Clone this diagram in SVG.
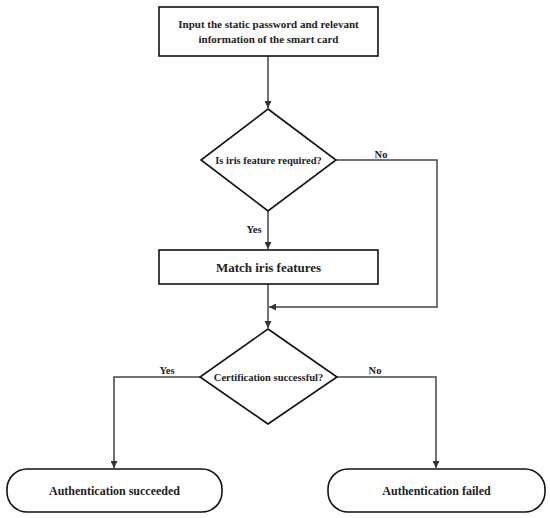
<svg xmlns="http://www.w3.org/2000/svg" width="550" height="518" viewBox="0 0 550 518">
<style>
.s{fill:#fff;stroke:#111;stroke-width:1.6}
.c{fill:none;stroke:#444;stroke-width:1.5}
.t{font-family:"Liberation Serif","Times New Roman",serif;font-weight:bold;fill:#222;text-anchor:middle}
</style>
<defs>
<marker id="a" viewBox="0 0 10 10" refX="10" refY="5" markerWidth="7" markerHeight="7" markerUnits="userSpaceOnUse" orient="auto"><path d="M0,0L10,5L0,10z" fill="#333"/></marker>
</defs>
<rect width="550" height="518" fill="#fff"/>
<g id="connectors">
<line class="c" x1="268" y1="56" x2="268" y2="108" marker-end="url(#a)"/>
<line class="c" x1="268" y1="211" x2="268" y2="249" marker-end="url(#a)"/>
<polyline class="c" points="336,160 437,160 437,307 269,307" marker-end="url(#a)"/>
<line class="c" x1="268" y1="284" x2="268" y2="328" marker-end="url(#a)"/>
<polyline class="c" points="200,377 114,377 114,468" marker-end="url(#a)"/>
<polyline class="c" points="337,377 436,377 436,468" marker-end="url(#a)"/>
</g>
<g id="input">
<rect class="s" x="159" y="7" width="219" height="49"/>
<text class="t" x="268.5" y="28" font-size="11">Input the static password and relevant</text>
<text class="t" x="268.5" y="43" font-size="11">information of the smart card</text>
</g>
<g id="iris_required">
<polygon class="s" points="268,109 336,160 268,211 201,160"/>
<text class="t" x="268.5" y="164" font-size="10.5">Is iris feature required?</text>
</g>
<text class="t" x="381" y="158" font-size="10.5">No</text>
<text class="t" x="254" y="233" font-size="10.5">Yes</text>
<g id="match">
<rect class="s" x="159" y="250" width="219" height="34"/>
<text class="t" x="268.5" y="272" font-size="13">Match iris features</text>
</g>
<g id="cert">
<polygon class="s" points="268,329 337,377 268,424 200,377"/>
<text class="t" x="268.5" y="381" font-size="10.5">Certification successful?</text>
</g>
<text class="t" x="167" y="374" font-size="10.5">Yes</text>
<text class="t" x="375" y="374" font-size="10.5">No</text>
<g id="succeeded">
<rect class="s" x="7" y="469" width="215" height="43" rx="20"/>
<text class="t" x="114.5" y="495" font-size="12">Authentication succeeded</text>
</g>
<g id="failed">
<rect class="s" x="328" y="469" width="217" height="43" rx="20"/>
<text class="t" x="436.5" y="495" font-size="12">Authentication failed</text>
</g>
</svg>
